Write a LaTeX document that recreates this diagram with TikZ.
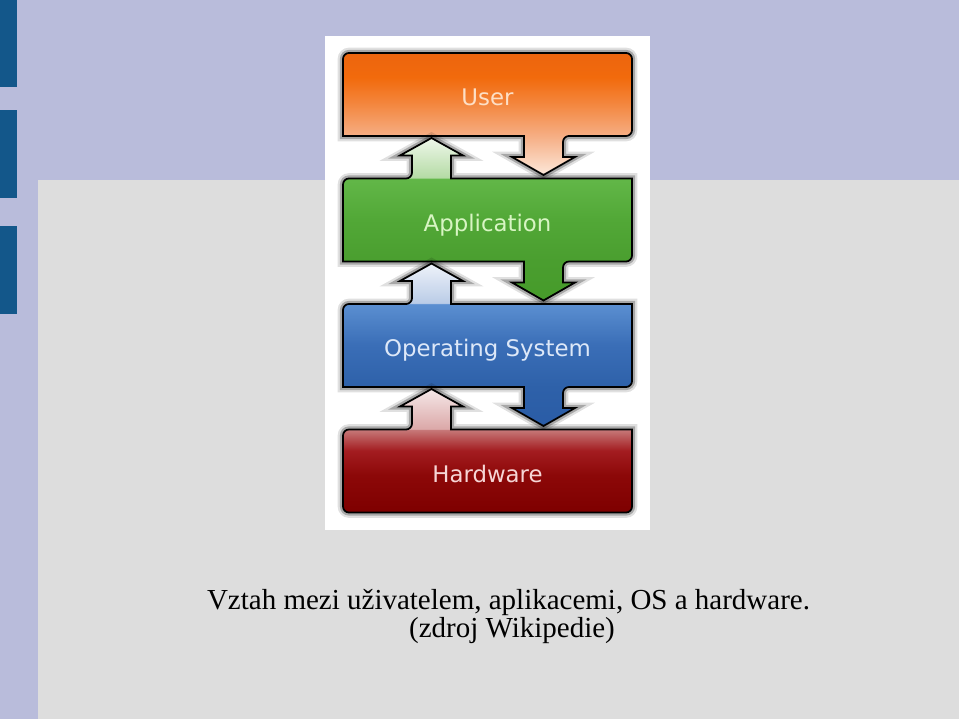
\documentclass[tikz,border=0pt]{standalone}
\usepackage{fontspec}
\setmainfont{Liberation Serif}
\newfontfamily\boxfont{DejaVu Sans}
\usetikzlibrary{calc}
\definecolor{slidebg}{HTML}{B9BCDB}
\definecolor{slidegrey}{HTML}{DDDDDD}
\definecolor{slidebar}{HTML}{13578A}
\definecolor{usertext}{HTML}{FDDFC6}
\definecolor{apptext}{HTML}{D8F5C3}
\definecolor{ostext}{HTML}{DDE8F8}
\definecolor{hwtext}{HTML}{F6D5D5}
\definecolor{u0}{HTML}{FCE8DA}\definecolor{u1}{HTML}{F6AE84}\definecolor{u2}{HTML}{F3843A}
\definecolor{u3}{HTML}{F26A0C}\definecolor{u4}{HTML}{EC650E}
\definecolor{a0}{HTML}{469B2A}\definecolor{a1}{HTML}{4A9E2F}\definecolor{a2}{HTML}{52A837}
\definecolor{a3}{HTML}{62B748}\definecolor{a4}{HTML}{B5DBA5}\definecolor{a5}{HTML}{EEF7EA}
\definecolor{o0}{HTML}{2A5CA6}\definecolor{o1}{HTML}{2E61A9}\definecolor{o2}{HTML}{3A6EB7}
\definecolor{o3}{HTML}{5B8FD1}\definecolor{o4}{HTML}{BACCE7}\definecolor{o5}{HTML}{EEF2F9}
\definecolor{h0}{HTML}{7E0000}\definecolor{h1}{HTML}{8C0808}\definecolor{h2}{HTML}{A31C20}
\definecolor{h3}{HTML}{C77979}\definecolor{h4}{HTML}{DBA8A8}\definecolor{h5}{HTML}{F5E8E8}
\pgfdeclarelayer{slide}
\pgfdeclarelayer{shapes}
\pgfsetlayers{slide,shapes,main}
% vertical fills, the shape runs from 25bp (lowest point) to 75bp (top)
\pgfdeclareverticalshading{usershade}{100bp}{color(0bp)=(u0); color(25bp)=(u0); color(41bp)=(u1); color(55bp)=(u2); color(65bp)=(u3); color(75bp)=(u4); color(100bp)=(u4)}
\pgfdeclareverticalshading{appshade}{100bp}{color(0bp)=(a0); color(25bp)=(a0); color(37bp)=(a1); color(50bp)=(a2); color(62.5bp)=(a3); color(62.8bp)=(a4); color(75bp)=(a5); color(100bp)=(a5)}
\pgfdeclareverticalshading{osshade}{100bp}{color(0bp)=(o0); color(25bp)=(o0); color(37bp)=(o1); color(50bp)=(o2); color(62.5bp)=(o3); color(62.8bp)=(o4); color(75bp)=(o5); color(100bp)=(o5)}
\pgfdeclareverticalshading{hwshade}{100bp}{color(0bp)=(h0); color(25bp)=(h0); color(40bp)=(h1); color(50bp)=(h2); color(58.5bp)=(h3); color(58.8bp)=(h4); color(75bp)=(h5); color(100bp)=(h5)}
\tikzset{
  layerbox/.style={rectangle,minimum width=5.78cm,minimum height=1.66cm,inner sep=0pt,
    text height=12.9pt,text depth=0pt,font=\boxfont\fontsize{13}{15}\selectfont},
  layershape/.style={draw=black,line width=1pt,rounded corners=3.4pt,
    preaction={draw=black,opacity=.12,line width=6pt},
    preaction={draw=black,opacity=.25,line width=3.5pt}},
  caption/.style={anchor=base,font=\fontsize{16.5}{18}\selectfont,text=black},
}
\begin{document}
\begin{tikzpicture}[x=0.02cm,y=-0.02cm]
  \useasboundingbox (0,0) rectangle (959,719);
  \begin{pgfonlayer}{slide}
    \fill[slidebg] (0,0) rectangle (959,719);
    \fill[slidegrey] (38,180) rectangle (959,719);
    \foreach \a/\b in {0/87,110/198,226/314}
      \fill[slidebar] (0,\a) rectangle (17,\b);
    \fill[white] (325,36) rectangle (650,530);
  \end{pgfonlayer}
  \node[layerbox,text=usertext] (user) at (487.5,94.5) {User};
  \node[layerbox,text=apptext] (app) at (487.5,220) {Application};
  \node[layerbox,text=ostext] (os) at (487.5,345.5) {Operating System};
  \node[layerbox,text=hwtext] (hw) at (487.5,471) {Hardware};
  \begin{pgfonlayer}{shapes}
    % user box, arrow down to application
    \shadedraw[layershape,shading=usershade,shift={(user.center)}]
      (-144.5,0) -- (-144.5,-41.5) -- (144.5,-41.5) -- (144.5,41.5) -- (75.5,41.5)
      [sharp corners] -- (75.5,62.5) -- (87.5,62.5) -- (56,80.5) -- (24.5,62.5) -- (36.5,62.5) -- (36.5,41.5)
      -- (-144.5,41.5) [rounded corners=3.4pt] -- cycle;
    % application box, arrow up to user and down to os
    \shadedraw[layershape,shading=appshade,shift={(app.center)}]
      (-144.5,0) -- (-144.5,-41.5) -- (-75.5,-41.5)
      [sharp corners] -- (-75.5,-64.5) -- (-87.5,-64.5) -- (-56,-82) -- (-24.5,-64.5) -- (-36.5,-64.5) -- (-36.5,-41.5)
      -- (144.5,-41.5) [rounded corners=3.4pt] -- (144.5,41.5) -- (75.5,41.5)
      [sharp corners] -- (75.5,62.5) -- (87.5,62.5) -- (56,80.5) -- (24.5,62.5) -- (36.5,62.5) -- (36.5,41.5)
      -- (-144.5,41.5) [rounded corners=3.4pt] -- cycle;
    % os box
    \shadedraw[layershape,shading=osshade,shift={(os.center)}]
      (-144.5,0) -- (-144.5,-41.5) -- (-75.5,-41.5)
      [sharp corners] -- (-75.5,-64.5) -- (-87.5,-64.5) -- (-56,-82) -- (-24.5,-64.5) -- (-36.5,-64.5) -- (-36.5,-41.5)
      -- (144.5,-41.5) [rounded corners=3.4pt] -- (144.5,41.5) -- (75.5,41.5)
      [sharp corners] -- (75.5,62.5) -- (87.5,62.5) -- (56,80.5) -- (24.5,62.5) -- (36.5,62.5) -- (36.5,41.5)
      -- (-144.5,41.5) [rounded corners=3.4pt] -- cycle;
    % hardware box, arrow up to os
    \shadedraw[layershape,shading=hwshade,shift={(hw.center)}]
      (-144.5,0) -- (-144.5,-41.5) -- (-75.5,-41.5)
      [sharp corners] -- (-75.5,-64.5) -- (-87.5,-64.5) -- (-56,-82) -- (-24.5,-64.5) -- (-36.5,-64.5) -- (-36.5,-41.5)
      -- (144.5,-41.5) [rounded corners=3.4pt] -- (144.5,41.5) -- (-144.5,41.5) -- cycle;
  \end{pgfonlayer}
  \node[caption] (cap1) at (508.5,609) {Vztah mezi uživatelem, aplikacemi, OS a hardware.};
  \node[caption] (cap2) at (512,637) {(zdroj Wikipedie)};
\end{tikzpicture}
\end{document}
